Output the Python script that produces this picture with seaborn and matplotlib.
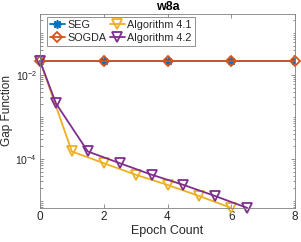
import numpy as np
import pandas as pd
import matplotlib
matplotlib.use("Agg")
import matplotlib.pyplot as plt
import matplotlib.ticker as mticker
import seaborn as sns

# data (gap function, log scale)
seg_x = [0, 2, 4, 6, 8]
seg_y = [0.0215, 0.0215, 0.0215, 0.0215, 0.0215]
sogda_x = [0, 2, 4, 6, 8]
sogda_y = [0.0215, 0.0215, 0.0215, 0.0215, 0.0215]
alg41_x = [0, 1, 2, 3, 4, 5, 6]
alg41_y = [0.0215, 1.5e-4, 7.9e-5, 4.2e-5, 2.4e-5, 1.3e-5, 6.8e-6]
alg42_x = [0, 0.5, 1.5, 2.5, 3.5, 4.5, 5.5, 6.5]
alg42_y = [0.0215, 2.1e-3, 1.5e-4, 7.9e-5, 4.2e-5, 2.4e-5, 1.3e-5, 6.8e-6]

colors = {"SEG": "#0072BD", "SOGDA": "#D95319",
          "Algorithm 4.1": "#EDB120", "Algorithm 4.2": "#7E2F8E"}

sns.set_style("ticks")
plt.rcParams["font.family"] = ["Liberation Sans", "DejaVu Sans"]
plt.rcParams["mathtext.fontset"] = "custom"
plt.rcParams["mathtext.rm"] = "Liberation Sans"
plt.rcParams["mathtext.it"] = "Liberation Sans:italic"

fig = plt.figure(figsize=(3.01, 2.42), dpi=100)
ax = fig.add_axes([40 / 301, 34 / 242, 255 / 301, 194 / 242])

lw = 1.3
# SEG
sns.lineplot(x=seg_x, y=seg_y, ax=ax, color=colors["SEG"], lw=lw,
             marker=(8, 2, 0), markersize=6, markeredgewidth=1.2,
             markeredgecolor=colors["SEG"], label="SEG")
# SOGDA
sns.lineplot(x=sogda_x, y=sogda_y, ax=ax, color=colors["SOGDA"], lw=lw,
             marker="D", markersize=5.5, markeredgewidth=1.3,
             markerfacecolor="none", markeredgecolor=colors["SOGDA"],
             label="SOGDA", clip_on=False)
# Algorithm 4.1
sns.lineplot(x=alg41_x, y=alg41_y, ax=ax, color=colors["Algorithm 4.1"], lw=lw,
             marker="v", markersize=6.5, markeredgewidth=1.3,
             markerfacecolor="none", markeredgecolor=colors["Algorithm 4.1"],
             label="Algorithm 4.1", clip_on=False)
# Algorithm 4.2
sns.lineplot(x=alg42_x, y=alg42_y, ax=ax, color=colors["Algorithm 4.2"], lw=lw,
             marker="v", markersize=6.5, markeredgewidth=1.3,
             markerfacecolor="none", markeredgecolor=colors["Algorithm 4.2"],
             label="Algorithm 4.2", clip_on=False)

ax.set_yscale("log")
ax.set_xlim(0, 8)
ax.set_ylim(10 ** -5.17, 10 ** -0.55)
ax.set_xticks([0, 2, 4, 6, 8])
ax.yaxis.set_major_locator(mticker.FixedLocator([1e-4, 1e-2]))
ax.yaxis.set_major_formatter(mticker.LogFormatterMathtext())
ax.yaxis.set_minor_locator(mticker.LogLocator(base=10, subs=np.arange(1, 10), numticks=20))
ax.yaxis.set_minor_formatter(mticker.NullFormatter())

axc = "#262626"
for s in ax.spines.values():
    s.set_visible(True)
    s.set_linewidth(0.6)
    s.set_color("#808080")
ax.tick_params(which="both", direction="in", top=True, right=True,
               color="#808080", labelcolor=axc, width=0.6, pad=2.5)
ax.tick_params(axis="x", labelsize=8.5)
ax.tick_params(axis="y", labelsize=7.5, pad=2)
ax.tick_params(which="major", length=3)
ax.tick_params(which="minor", length=1.8)

ax.set_xlabel("Epoch Count", fontsize=9, color=axc, labelpad=1)
ax.set_ylabel("Gap Function", fontsize=8.5, color=axc)
ax.yaxis.set_label_coords(-0.104, 0.5)
ax.set_title("w8a", fontsize=9, fontweight="bold", color="black", pad=3)

leg = ax.legend(ncol=2, loc="upper left", bbox_to_anchor=(0.026, 0.986),
                fontsize=7.8, handlelength=1.4, handletextpad=0.2,
                columnspacing=0.3, borderpad=0.3, labelspacing=0.3,
                borderaxespad=0, fancybox=False, framealpha=1)
leg.get_frame().set_edgecolor("#808080")
leg.get_frame().set_linewidth(0.6)

fig.savefig("out.png", dpi=100)
